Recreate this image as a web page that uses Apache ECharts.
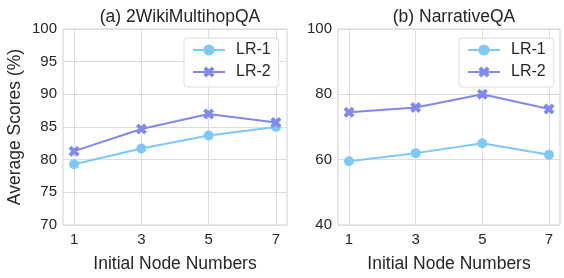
<!DOCTYPE html>
<html>
<head>
<meta charset="utf-8">
<script src="https://cdn.jsdelivr.net/npm/echarts@6/dist/echarts.min.js"></script>
<style>
  html, body { margin: 0; padding: 0; background: #fff; }
  #chart { width: 564px; height: 278px; }
</style>
</head>
<body>
<div id="chart"></div>
<script>
// x positions (initial node numbers)
const nodeNumbers = [1, 3, 5, 7];

// (a) 2WikiMultihopQA
const wikiLR1 = [79.3, 81.7, 83.7, 85.0];
const wikiLR2 = [81.3, 84.7, 87.0, 85.7];

// (b) NarrativeQA
const narrLR1 = [59.5, 62.0, 65.0, 61.5];
const narrLR2 = [74.5, 76.0, 80.0, 75.5];

const titles = ['(a) 2WikiMultihopQA', '(b) NarrativeQA'];

const colorLR1 = '#7ec8fa';
const colorLR2 = '#8088f2';
const textColor = '#262626';
const font = 'Liberation Sans, Arial, sans-serif';
// filled "X" marker like matplotlib
const xMarker = 'path://M2.5,0 L5,2.5 L7.5,0 L10,2.5 L7.5,5 L10,7.5 L7.5,10 L5,7.5 L2.5,10 L0,7.5 L2.5,5 L0,2.5 Z';

function pairs(values) {
  return nodeNumbers.map((n, i) => [n, values[i]]);
}

function makeSeries(name, values, idx, color, symbol, size) {
  return {
    name: name,
    type: 'line',
    xAxisIndex: idx,
    yAxisIndex: idx,
    data: pairs(values),
    symbol: symbol,
    symbolSize: size,
    showAllSymbol: true,
    lineStyle: { color: color, width: 2 },
    itemStyle: { color: color },
    emphasis: { disabled: true },
    z: name === 'LR-2' ? 3 : 2
  };
}

function makeXAxis(idx) {
  return {
    type: 'value',
    gridIndex: idx,
    min: 0.67,
    max: 7.33,
    name: 'Initial Node Numbers',
    nameLocation: 'middle',
    nameGap: 30,
    nameTextStyle: { fontSize: 17.5, color: textColor, fontFamily: font },
    axisLine: { show: false },
    axisTick: { show: false, customValues: nodeNumbers },
    axisLabel: {
      customValues: nodeNumbers,
      fontSize: 15, color: textColor, fontFamily: font, margin: 7
    },
    splitLine: { show: true, lineStyle: { color: '#dcdcdc', width: 1 } }
  };
}

function makeYAxis(idx, min, max, interval, withName) {
  return {
    type: 'value',
    gridIndex: idx,
    min: min,
    max: max,
    interval: interval,
    name: withName ? 'Average Scores (%)' : '',
    nameLocation: 'middle',
    nameGap: 39,
    nameTextStyle: { fontSize: 17.5, color: textColor, fontFamily: font },
    axisLine: { show: false },
    axisTick: { show: false },
    axisLabel: { fontSize: 15, color: textColor, fontFamily: font, margin: 6 },
    splitLine: { show: true, lineStyle: { color: '#dcdcdc', width: 1 } }
  };
}

function makeLegend(left) {
  return {
    left: left,
    top: 38,
    orient: 'vertical',
    data: ['LR-1', 'LR-2'],
    itemWidth: 32,
    itemHeight: 14,
    itemGap: 6,
    padding: [4, 8, 7, 8],
    backgroundColor: 'rgba(255,255,255,0.85)',
    borderColor: '#dddddd',
    borderWidth: 1,
    borderRadius: 3,
    selectedMode: false,
    textStyle: {
      fontSize: 16, color: textColor, fontFamily: font,
      lineHeight: 16, padding: [0, 0, 0, 6]
    }
  };
}

const chart = echarts.init(document.getElementById('chart'), null, { renderer: 'canvas' });

chart.setOption({
  animation: false,
  backgroundColor: '#ffffff',
  title: [
    { text: titles[0], left: 175, top: 3, textAlign: 'center',
      textStyle: { fontSize: 17.5, fontWeight: 'normal', color: textColor, fontFamily: font } },
    { text: titles[1], left: 449, top: 3, textAlign: 'center',
      textStyle: { fontSize: 17.5, fontWeight: 'normal', color: textColor, fontFamily: font } }
  ],
  grid: [
    { left: 63, top: 29, width: 224, height: 200, show: true,
      borderColor: '#cfcfcf', borderWidth: 1, backgroundColor: 'transparent' },
    { left: 338, top: 29, width: 222, height: 200, show: true,
      borderColor: '#cfcfcf', borderWidth: 1, backgroundColor: 'transparent' }
  ],
  legend: [makeLegend(184), makeLegend(459)],
  xAxis: [makeXAxis(0), makeXAxis(1)],
  yAxis: [makeYAxis(0, 70, 100, 5, true), makeYAxis(1, 40, 100, 20, false)],
  series: [
    makeSeries('LR-1', wikiLR1, 0, colorLR1, 'circle', 10),
    makeSeries('LR-2', wikiLR2, 0, colorLR2, xMarker, 11),
    makeSeries('LR-1', narrLR1, 1, colorLR1, 'circle', 10),
    makeSeries('LR-2', narrLR2, 1, colorLR2, xMarker, 11)
  ]
});
</script>
</body>
</html>
